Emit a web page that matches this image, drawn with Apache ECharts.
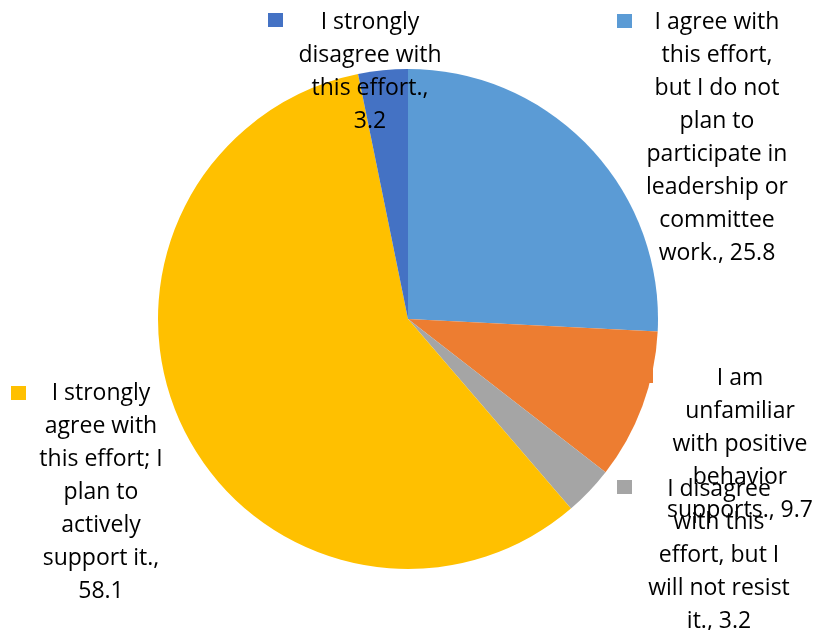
<!DOCTYPE html>
<html><head><meta charset="utf-8">
<script src="https://cdn.jsdelivr.net/npm/echarts@6/dist/echarts.min.js"></script>
<style>html,body{margin:0;padding:0;background:#fff}#c{width:817px;height:630px}</style>
</head><body><div id="c"></div>
<script>
const categories = [
  'I agree with\nthis effort,\nbut I do not\nplan to\nparticipate in\nleadership or\ncommittee\nwork.',
  'I am\nunfamiliar\nwith positive\nbehavior\nsupports.',
  'I disagree\nwith this\neffort, but I\nwill not resist\nit.',
  'I strongly\nagree with\nthis effort; I\nplan to\nactively\nsupport it.,\n',
  'I strongly\ndisagree with\nthis effort.,\n'
];
const values = [25.8, 9.7, 3.2, 58.1, 3.2];
const colors = ['#5B9BD5', '#ED7D31', '#A5A5A5', '#FFC000', '#4472C4'];
// label anchor (text centre x, block top y) and legend key square (x, y)
const labelPos = [[717, 5.5], [740, 361.5], [719, 472.5], [101, 376.5], [370, 5.5]];
const keyPos = [[617, 14], [638, 369], [617, 480], [11, 386], [268, 13]];

const chart = echarts.init(document.getElementById('c'));
chart.setOption({
  animation: false,
  graphic: keyPos.map((p, i) => ({
    type: 'rect', z: -10, shape: {x: p[0], y: p[1], width: 15, height: 14},
    style: {fill: colors[i]}
  })),
  series: [{
    type: 'pie',
    center: [408, 319],
    radius: 250,
    startAngle: 90,
    clockwise: true,
    itemStyle: {borderWidth: 0},
    data: values.map((v, i) => ({
      name: categories[i], value: v, itemStyle: {color: colors[i]}
    })),
    label: {
      show: true,
      position: 'outside',
      fontFamily: 'Open Sans',
      fontSize: 23,
      lineHeight: 33,
      color: '#000',
      align: 'center',
      overflow: 'none',
      width: 300,
      formatter: p => {
        const n = p.name;
        if (n.endsWith('\n')) return n + p.value;
        return n + ', ' + p.value;
      }
    },
    labelLine: {show: false},
    labelLayout: params => ({
      x: labelPos[params.dataIndex][0],
      y: labelPos[params.dataIndex][1],
      align: 'center',
      verticalAlign: 'top'
    })
  }]
});
</script></body></html>
